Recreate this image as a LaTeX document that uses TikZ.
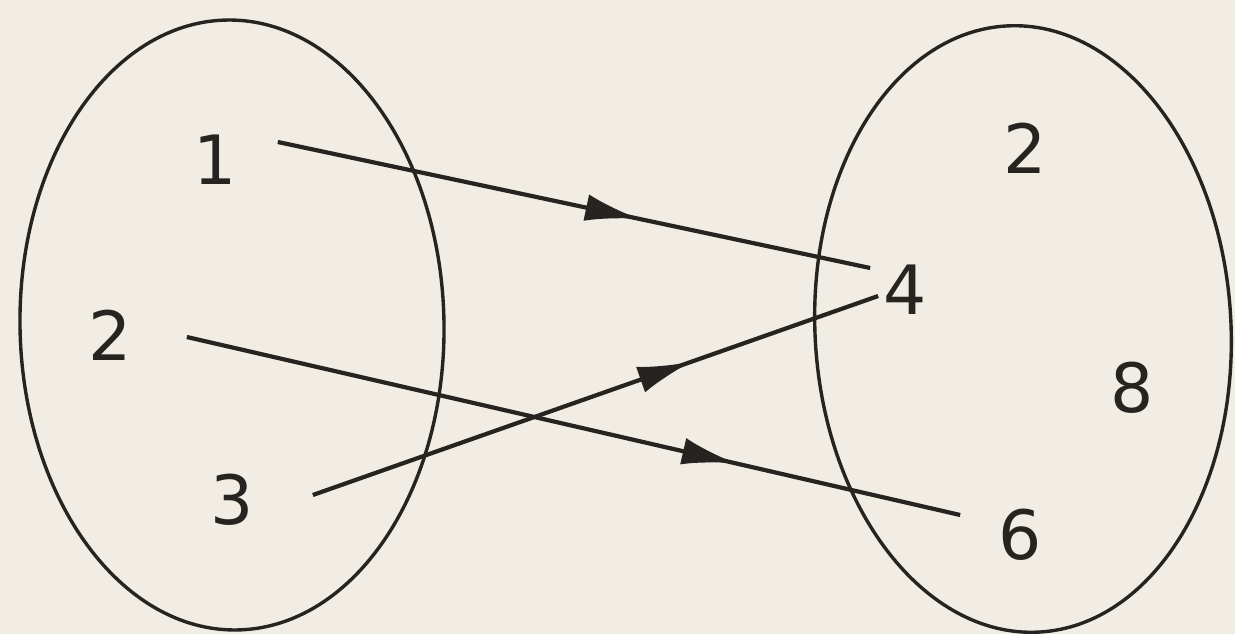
\documentclass[tikz,border=0pt]{standalone}
\usepackage{fontspec}
\newfontfamily\digitfont{DejaVu Sans}
\usetikzlibrary{shapes.geometric,arrows.meta,decorations.markings,calc}
\definecolor{paper}{RGB}{241,237,228}
\definecolor{ink}{RGB}{38,36,32}
\tikzset{
  setshape/.style={ellipse, draw=ink, line width=3.4pt, inner sep=0pt},
  num/.style={font=\digitfont\fontsize{68}{68}\selectfont, text=ink, inner sep=0pt},
  conn/.style={draw=ink, line width=4.2pt, postaction={decorate},
    decoration={markings, mark=at position #1 with {\arrow{Latex[length=54pt,width=27pt]}}}},
}
\begin{document}
\begin{tikzpicture}[x=1pt,y=-1pt]
\useasboundingbox[fill=paper] (0,0) rectangle (1235,634);
\node[setshape, minimum width=424pt, minimum height=610pt, rotate=1] (A) at (232,325) {};
\node[setshape, minimum width=416pt, minimum height=607pt, rotate=3] (B) at (1023,329) {};
\node[num] (l1) at (215,160) {1};
\node[num] (l2) at (110,335) {2};
\node[num] (l3) at (232,500) {3};
\node[num] (r2) at (1025,148) {2};
\node[num] (r4) at (905,290) {4};
\node[num] (r8) at (1132,388) {8};
\node[num] (r6) at (1020,535) {6};
\draw[conn=0.61] ([shift={(41,-18)}]l1.east) -- ([shift={(-13,-22)}]r4.west);
\draw[conn=0.71] ([shift={(55,2)}]l2.east) -- ([shift={(-38,-20)}]r6.west);
\draw[conn=0.67] ([shift={(59,-5)}]l3.east) -- ([shift={(-5,6)}]r4.west);
\end{tikzpicture}
\end{document}
